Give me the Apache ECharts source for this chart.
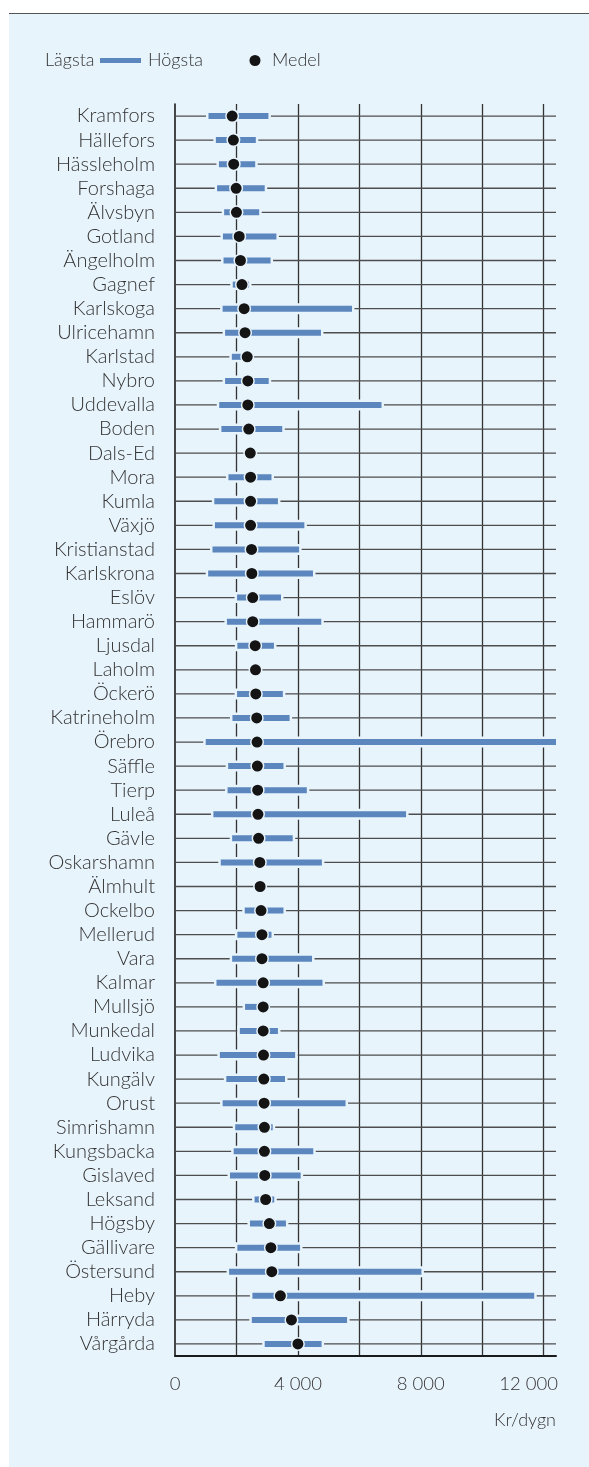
<!DOCTYPE html>
<html>
<head>
<meta charset="utf-8">
<script src="https://cdn.jsdelivr.net/npm/echarts@6/dist/echarts.min.js"></script>
<style>
  html, body { margin: 0; padding: 0; background: #ffffff; }
  #panel { position: absolute; left: 9px; top: 13px; width: 580px; height: 1454px;
           background: #e8f4fc; border-top: 1.5px solid #555; }
  #chart { position: absolute; left: 0; top: 0; width: 589px; height: 1467px; }
</style>
</head>
<body>
<div id="panel"></div>
<div id="chart"></div>
<script>
// kommuner, sorterade efter medelvärde
var kommuner = ["Kramfors", "Hällefors", "Hässleholm", "Forshaga", "Älvsbyn", "Gotland", "Ängelholm", "Gagnef",
  "Karlskoga", "Ulricehamn", "Karlstad", "Nybro", "Uddevalla", "Boden", "Dals-Ed", "Mora", "Kumla", "Växjö",
  "Kristianstad", "Karlskrona", "Eslöv", "Hammarö", "Ljusdal", "Laholm", "Öckerö", "Katrineholm", "Örebro",
  "Säffle", "Tierp", "Luleå", "Gävle", "Oskarshamn", "Älmhult", "Ockelbo", "Mellerud", "Vara", "Kalmar",
  "Mullsjö", "Munkedal", "Ludvika", "Kungälv", "Orust", "Simrishamn", "Kungsbacka", "Gislaved", "Leksand",
  "Högsby", "Gällivare", "Östersund", "Heby", "Härryda", "Vårgårda"];

// kr/dygn (null = bara ett värde)
var lagsta = [1090, 1330, 1430, 1370, 1600, 1560, 1580, 1880, 1550, 1630, 1850, 1630, 1440, 1510, null, 1740,
  1280, 1300, 1220, 1080, 2020, 1690, 2030, null, 2020, 1870, 1000, 1730, 1710, 1250, 1860, 1490, null, 2270,
  2030, 1860, 1350, 2280, 2110, 1460, 1670, 1550, 1960, 1910, 1790, 2590, 2440, 2030, 1760, 2520, 2500, 2920];
var hogsta = [3040, 2630, 2610, 2920, 2740, 3300, 3110, 2410, 5760, 4750, 2450, 3050, 6720, 3490, null, 3140,
  3350, 4210, 4040, 4490, 3450, 4760, 3220, null, 3510, 3730, 12400, 3530, 4290, 7520, 3830, 4780, null, 3530,
  3140, 4460, 4800, 2950, 3350, 3910, 3580, 5550, 3180, 4500, 4090, 3230, 3610, 4070, 8020, 11690, 5600, 4770];
var medel = [1860, 1900, 1910, 1990, 2000, 2090, 2130, 2180, 2250, 2280, 2350, 2370, 2370, 2400, 2450, 2460,
  2460, 2460, 2490, 2500, 2530, 2530, 2610, 2620, 2630, 2660, 2670, 2680, 2690, 2700, 2720, 2760, 2770, 2800,
  2830, 2830, 2870, 2870, 2870, 2880, 2890, 2900, 2910, 2910, 2920, 2950, 3070, 3120, 3150, 3430, 3790, 4000];

var xTicks = [0, 4000, 8000, 12000];

var BG = "#e8f4fc";
var BLUE = "#5b86be";
var FONT = "Lato, 'Open Sans', sans-serif";
var TXT = "#333333";

var myChart = echarts.init(document.getElementById("chart"));

var rangeData = kommuner.map(function (k, i) { return [i, lagsta[i], hogsta[i]]; });
var rowData = kommuner.map(function (k, i) { return [i]; });
var dotData = kommuner.map(function (k, i) { return [medel[i], i]; });

function fmt(v) {
  return String(v).replace(/\B(?=(\d{3})+(?!\d))/g, " ");
}

var option = {
  animation: false,
  grid: { left: 175, right: 33, top: 104, bottom: 111, containLabel: false },
  xAxis: {
    type: "value",
    min: 0,
    max: 12400,
    interval: 2000,
    name: "Kr/dygn",
    nameLocation: "end",
    nameGap: 0,
    nameTextStyle: { fontFamily: FONT, fontWeight: 300, fontSize: 18, color: TXT, align: "right", verticalAlign: "top", padding: [55, 0, 0, 0] },
    axisLine: { show: true, lineStyle: { color: "#1a1a1a", width: 2 } },
    axisTick: { show: false },
    splitLine: { show: true, showMinLine: false, showMaxLine: false, lineStyle: { color: "#333", width: 1.3 } },
    axisLabel: {
      margin: 19,
      fontFamily: FONT,
      fontWeight: 300,
      fontSize: 18.5,
      color: TXT,
      formatter: function (v) {
        if (xTicks.indexOf(v) < 0) return "";
        if (v === xTicks[xTicks.length - 1]) return "{r|" + fmt(v) + "}";
        return fmt(v);
      },
      rich: { r: { fontFamily: FONT, fontWeight: 300, fontSize: 18.5, color: TXT, padding: [0, 30, 0, 0] } }
    }
  },
  yAxis: {
    type: "category",
    inverse: true,
    data: kommuner,
    axisLine: { show: true, lineStyle: { color: "#1a1a1a", width: 1.6 } },
    axisTick: { show: false },
    splitLine: { show: false },
    axisLabel: { interval: 0, margin: 20, fontFamily: FONT, fontWeight: 300, fontSize: 20, color: TXT }
  },
  graphic: [
    { type: "text", left: 45, top: 51, style: { text: "Lägsta", font: "300 18px " + FONT, fill: TXT } },
    { type: "rect", left: 100, top: 58, shape: { width: 41, height: 5 }, style: { fill: BLUE } },
    { type: "text", left: 148, top: 51, style: { text: "Högsta", font: "300 18px " + FONT, fill: TXT } },
    { type: "circle", left: 249.5, top: 55, shape: { r: 5.5 }, style: { fill: "#141414" } },
    { type: "text", left: 272, top: 51, style: { text: "Medel", font: "300 18px " + FONT, fill: TXT } }
  ],
  series: [
    {
      // horisontella linjer för varje kommun
      type: "custom",
      z: 1,
      silent: true,
      data: rowData,
      encode: { y: 0 },
      renderItem: function (params, api) {
        var p = api.coord([0, api.value(0)]);
        var cs = params.coordSys;
        return {
          type: "line",
          shape: { x1: cs.x, y1: p[1], x2: cs.x + cs.width, y2: p[1] },
          style: { stroke: "#4d4d4d", lineWidth: 1.3 }
        };
      }
    },
    {
      name: "Högsta",
      type: "custom",
      z: 2,
      clip: true,
      data: rangeData,
      encode: { x: [1, 2], y: 0 },
      renderItem: function (params, api) {
        var lo = api.value(1), hi = api.value(2);
        if (isNaN(lo) || isNaN(hi)) return null;
        var a = api.coord([lo, api.value(0)]);
        var b = api.coord([hi, api.value(0)]);
        var h = 6, pad = 2.5;
        return {
          type: "group",
          children: [
            { type: "rect", shape: { x: a[0] - pad, y: a[1] - h / 2 - pad, width: b[0] - a[0] + 2 * pad, height: h + 2 * pad }, style: { fill: BG } },
            { type: "rect", shape: { x: a[0], y: a[1] - h / 2, width: b[0] - a[0], height: h }, style: { fill: BLUE } }
          ]
        };
      }
    },
    {
      name: "Medel",
      type: "scatter",
      z: 3,
      data: dotData,
      symbol: "circle",
      symbolSize: 12.5,
      itemStyle: { color: "#141414", borderColor: BG, borderWidth: 1.5, opacity: 1 }
    }
  ]
};

option && myChart.setOption(option);
</script>
</body>
</html>
